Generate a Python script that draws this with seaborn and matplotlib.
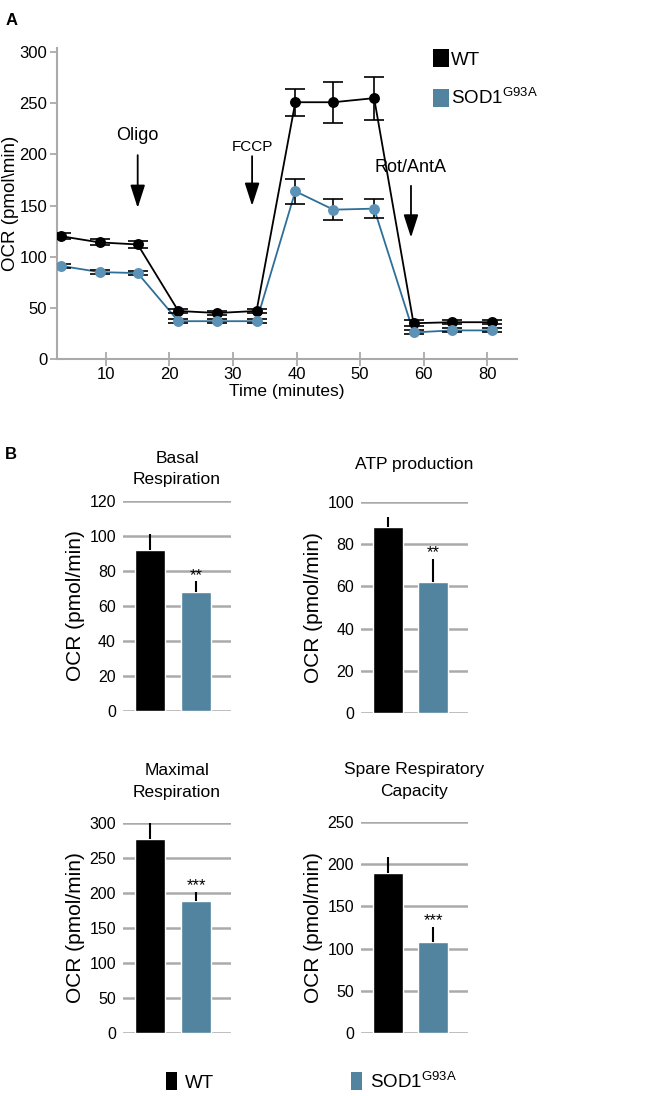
import numpy as np
import pandas as pd
import matplotlib
matplotlib.use("Agg")
import matplotlib.pyplot as plt
import seaborn as sns
from matplotlib.patches import Patch

# ---- panel A data (Seahorse trace) ----
time_pos = [3.0, 9.0, 15.0, 21.4, 27.5, 33.7, 39.8, 45.8, 52.2, 58.4, 64.5, 70.8]
wt_ocr = [120, 114, 112, 47, 45, 47, 251, 251, 255, 35, 36, 36]
wt_err = [3, 3, 3, 2, 2, 2, 13, 20, 21, 3, 2, 2]
sod_ocr = [91, 85, 84, 37, 37, 37, 164, 146, 147, 26, 28, 28]
sod_err = [2, 2, 2, 2, 2, 2, 12, 10, 9, 2, 2, 2]
xtick_pos = [10, 20, 30, 40, 50, 60, 70]
xtick_labels = ["10", "20", "30", "40", "50", "60", "80"]
injections = ["Oligo", "FCCP", "Rot/AntA"]
inj_time = [15.0, 33.0, 58.0]

# ---- panel B data (bar summaries) ----
genotypes = ["WT", "SOD1"]
bar_titles = ["Basal\nRespiration", "ATP production", "Maximal\nRespiration", "Spare Respiratory\nCapacity"]
bar_wt = [92, 88, 277, 189]
bar_wt_err = [9, 5, 23, 19]
bar_sod = [68, 62, 189, 108]
bar_sod_err = [6, 11, 12, 18]
stars = ["**", "**", "***", "***"]
ymax = [120, 100, 300, 250]
ystep = [20, 20, 50, 50]

BLACK = "#000000"
BLUE_BAR = "#52839f"
BLUE_PT = "#5b92b5"
BLUE_LN = "#2e6f98"
GRID = "#aaaaaa"

sns.set_style("white")
plt.rcParams["font.family"] = ["Liberation Sans", "DejaVu Sans"]
plt.rcParams["mathtext.fontset"] = "custom"
plt.rcParams["mathtext.rm"] = "Liberation Sans"
plt.rcParams["text.color"] = "black"
plt.rcParams["axes.labelcolor"] = "black"

fig = plt.figure(figsize=(6.64, 10.96), dpi=100)
sod_label = r"SOD1$^{\mathregular{G93A}}$"

# ---------------- panel A ----------------
axA = fig.add_axes([0.0858, 0.6724, 0.693, 0.2838])
df = pd.DataFrame({
    "time": time_pos * 2,
    "ocr": wt_ocr + sod_ocr,
    "geno": ["WT"] * len(time_pos) + ["SOD1"] * len(time_pos),
})
sns.lineplot(data=df, x="time", y="ocr", hue="geno", palette={"WT": BLACK, "SOD1": BLUE_LN},
             lw=1.3, legend=False, ax=axA, zorder=2)
axA.errorbar(time_pos, wt_ocr, yerr=wt_err, fmt="none", ecolor="black", elinewidth=1.2,
             capsize=7, capthick=1.2, zorder=3)
axA.errorbar(time_pos, sod_ocr, yerr=sod_err, fmt="none", ecolor="black", elinewidth=1.2,
             capsize=7, capthick=1.2, zorder=3)
axA.scatter(time_pos, wt_ocr, s=62, color=BLACK, zorder=4, linewidths=0)
axA.scatter(time_pos, sod_ocr, s=62, color=BLUE_PT, zorder=4, linewidths=0)

axA.set_xlim(2.3, 74.7)
axA.set_ylim(0, 304)
axA.set_yticks(np.arange(0, 301, 50))
axA.set_xticks(xtick_pos)
axA.set_xticklabels(xtick_labels)
axA.tick_params(axis="both", bottom=True, left=True, labelsize=12, length=5, width=1.3,
                color=GRID, labelcolor="black", pad=2, direction="out")
axA.tick_params(axis="x", direction="inout", length=10, pad=1)
for s in ["top", "right"]:
    axA.spines[s].set_visible(False)
for s in ["left", "bottom"]:
    axA.spines[s].set_color(GRID)
    axA.spines[s].set_linewidth(1.5)
axA.set_xlabel("Time (minutes)", fontsize=12.5, labelpad=1)
axA.set_ylabel("OCR (pmol\\min)", fontsize=13.5, labelpad=0)

label_y = [218, 207, 187]
arrow_top = [202, 201, 172]
arrow_bot = [145, 147, 116]
for name, t, ly, a0, a1 in zip(injections, inj_time, label_y, arrow_top, arrow_bot):
    axA.annotate("", xy=(t, a1), xytext=(t, a0),
                 arrowprops=dict(arrowstyle="-|>,head_width=0.45,head_length=1.4", color="black", lw=1.3))
    fs = 11 if name == "FCCP" else 13
    axA.text(t, ly, name, ha="center", va="center", fontsize=fs)

legA = [Patch(facecolor=BLACK, edgecolor="none", label="WT"),
        Patch(facecolor=BLUE_BAR, edgecolor="none", label=sod_label)]
fig.legend(handles=legA, loc="upper left", bbox_to_anchor=(0.626, 0.9705), frameon=False,
           fontsize=13.5, handlelength=0.9, handleheight=1.1, handletextpad=0.1, labelspacing=1.0)

fig.text(0.008, 0.988, "A", fontsize=12, fontweight="bold", va="top")
fig.text(0.008, 0.592, "B", fontsize=12, fontweight="bold", va="top")

# ---------------- panel B ----------------
positions = [[0.185, 0.3513, 0.163, 0.1916],
             [0.5437, 0.3495, 0.161, 0.1925],
             [0.185, 0.0575, 0.163, 0.1916],
             [0.5437, 0.0575, 0.161, 0.1925]]
title_pad = [12, 24, 19, 19]
for i in range(4):
    ax = fig.add_axes(positions[i])
    bdf = pd.DataFrame({"geno": genotypes, "ocr": [bar_wt[i], bar_sod[i]]})
    sns.barplot(data=bdf, x="geno", y="ocr", hue="geno", palette=[BLACK, BLUE_BAR],
                width=0.65, errorbar=None, legend=False, ax=ax, zorder=3, saturation=1)
    ax.errorbar([0, 1], [bar_wt[i], bar_sod[i]], yerr=[[0, 0], [bar_wt_err[i], bar_sod_err[i]]],
                fmt="none", ecolor="black", elinewidth=1.5, capsize=0, zorder=4)
    ax.text(1, bar_sod[i] + bar_sod_err[i] + ymax[i] * 0.03, stars[i], ha="center", va="center",
            fontsize=12)
    ax.set_xlim(-0.587, 1.76)
    ax.set_ylim(0, ymax[i])
    ax.set_yticks(np.arange(0, ymax[i] + 1, ystep[i]))
    ax.yaxis.grid(True, color=GRID, lw=1.8)
    ax.set_axisbelow(True)
    ax.set_xticks([])
    ax.set_xlabel("")
    ax.set_ylabel("OCR (pmol/min)", fontsize=15, labelpad=3)
    ax.tick_params(axis="y", labelsize=11.5, length=0, pad=5, labelcolor="black")
    for s in ax.spines.values():
        s.set_visible(False)
    ax.set_title(bar_titles[i], fontsize=12.5, pad=title_pad[i], linespacing=1.55)

legB = [Patch(facecolor=BLACK, edgecolor="none", label="WT"),
        Patch(facecolor=BLUE_BAR, edgecolor="none", label=sod_label)]
fig.legend(handles=legB, loc="lower left", bbox_to_anchor=(0.25, 0.004), ncol=2, frameon=False,
           fontsize=13.5, handlelength=0.6, handleheight=1.1, handletextpad=0.4, columnspacing=7.3,
           borderpad=0, borderaxespad=0)

fig.savefig("out.png", dpi=100)
